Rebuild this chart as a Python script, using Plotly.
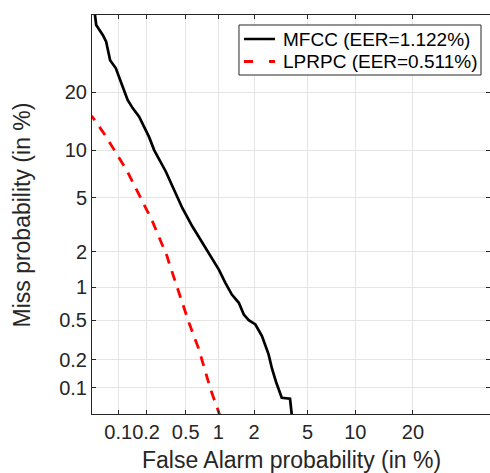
from statistics import NormalDist
import plotly.graph_objects as go

# DET curve data (percent)
mfcc_fa = [0.053, 0.056, 0.067, 0.073, 0.081, 0.094, 0.112, 0.127, 0.144, 0.169, 0.216,
           0.243, 0.319, 0.385, 0.464, 0.578, 0.691, 0.852, 0.975, 1.01, 1.155, 1.31,
           1.50, 1.65, 1.81, 2.05, 2.31, 2.60, 2.76, 2.97, 3.27, 3.76, 3.92]
mfcc_miss = [42.0, 37.1, 34.2, 32.4, 27.5, 25.5, 21.2, 18.4, 16.8, 15.2, 11.8,
             10.0, 7.43, 5.66, 4.25, 3.13, 2.48, 1.83, 1.51, 1.42, 1.09, 0.863,
             0.726, 0.565, 0.499, 0.454, 0.349, 0.228, 0.162, 0.115, 0.077, 0.075, 0.04]

lprpc_fa = [0.045, 0.051, 0.069, 0.094, 0.0976, 0.126, 0.171, 0.207, 0.222, 0.273, 0.329,
            0.344, 0.464, 0.538, 0.667, 0.740, 0.852, 1.01, 1.05]
lprpc_miss = [15.9, 15.1, 12.4, 9.8, 9.38, 7.43, 5.11, 4.02, 3.70, 2.63, 1.83,
              1.62, 0.726, 0.471, 0.256, 0.172, 0.096, 0.052, 0.045]

tick_vals_pct = [0.1, 0.2, 0.5, 1, 2, 5, 10, 20]
tick_text = ["0.1", "0.2", "0.5", "1", "2", "5", "10", "20"]
axis_limits_pct = [0.05, 40]

series_names = ["MFCC (EER=1.122%)", "LPRPC (EER=0.511%)"]
series_colors = ["black", "#ff0000"]
x_title = "False Alarm probability (in %)"
y_title = "Miss probability (in %)"

nd = NormalDist()
def probit(p_pct):
    return nd.inv_cdf(p_pct / 100.0)

line_styles = [dict(color=series_colors[0], width=2.7),
               dict(color=series_colors[1], width=2.8, dash="10px,8px")]

fig = go.Figure()
fig.add_trace(go.Scatter(
    x=[probit(v) for v in mfcc_fa], y=[probit(v) for v in mfcc_miss],
    mode="lines", name=series_names[0], line=line_styles[0], showlegend=False))
fig.add_trace(go.Scatter(
    x=[probit(v) for v in lprpc_fa], y=[probit(v) for v in lprpc_miss],
    mode="lines", name=series_names[1], line=line_styles[1], showlegend=False))

tv = [probit(v) for v in tick_vals_pct]
rng = [probit(axis_limits_pct[0]), probit(axis_limits_pct[1])]
font_family = "Liberation Sans, Arial, Helvetica, sans-serif"
axis_common = dict(
    tickmode="array", tickvals=tv, ticktext=tick_text, range=rng,
    showgrid=True, gridcolor="#e4e4e4", gridwidth=1,
    showline=True, linecolor="#262626", linewidth=1, mirror="ticks",
    ticks="inside", ticklen=4, tickcolor="#262626", tickangle=0,
    tickfont=dict(size=20, color="#262626", family=font_family),
    zeroline=False, fixedrange=True, automargin=False,
)
fig.update_xaxes(**axis_common)
fig.update_yaxes(**axis_common)

fig.add_annotation(text=x_title, xref="paper", yref="paper", x=0.5, y=-0.1153,
                   xanchor="center", yanchor="middle", showarrow=False,
                   font=dict(size=23, color="#262626", family=font_family))
fig.add_annotation(text=y_title, xref="paper", yref="paper", x=-0.1746, y=0.4987,
                   xanchor="center", yanchor="middle", showarrow=False, textangle=-90,
                   font=dict(size=23, color="#262626", family=font_family))

# Legend box (drawn in paper coordinates)
fig.add_shape(type="rect", xref="paper", yref="paper", x0=0.3693, x1=0.9774,
              y0=0.8496, y1=0.9749, line=dict(color="#262626", width=1),
              fillcolor="white", layer="above")
legend_rows_y = [0.9398, 0.8835]
legend_sample_styles = [dict(color=series_colors[0], width=2.7),
                        dict(color=series_colors[1], width=2.8, dash="9px,16px")]
for name, ry, st in zip(series_names, legend_rows_y, legend_sample_styles):
    fig.add_shape(type="line", xref="paper", yref="paper", x0=0.3819, x1=0.4598,
                  y0=ry, y1=ry, line=st, layer="above")
    fig.add_annotation(text=name, xref="paper", yref="paper", x=0.4749, y=ry,
                       xanchor="left", yanchor="middle", showarrow=False,
                       font=dict(size=19, color="black", family=font_family))

fig.update_layout(
    width=490, height=473,
    margin=dict(l=92, r=0, t=15, b=59, autoexpand=False),
    paper_bgcolor="white", plot_bgcolor="white",
    font=dict(family=font_family, color="#262626"),
    showlegend=False,
)

fig.write_html("out.html", config={"displayModeBar": False, "staticPlot": True},
               post_script="document.body.style.margin='0';document.body.style.overflow='hidden';")
